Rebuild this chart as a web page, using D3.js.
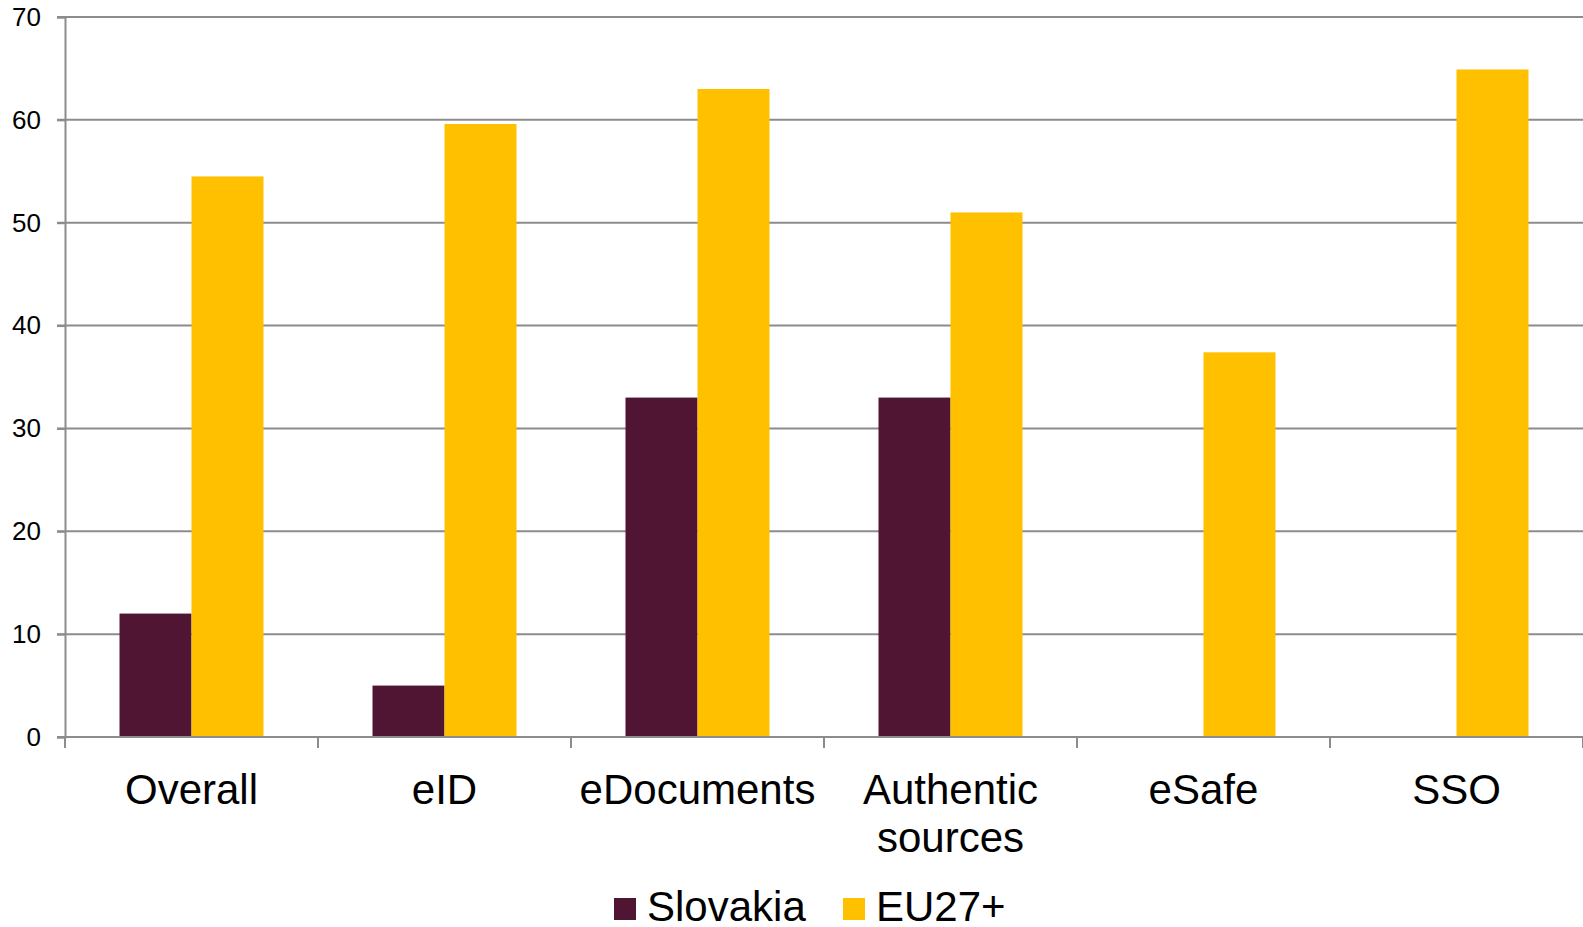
<!DOCTYPE html>
<html>
<head>
<meta charset="utf-8">
<script src="https://cdn.jsdelivr.net/npm/d3@7"></script>
<style>
  body { margin: 0; background: #fff; }
  text { font-family: "Liberation Sans", Arial, sans-serif; fill: #000; }
</style>
</head>
<body>
<svg id="main" width="1583" height="927"></svg>
<script>
var categories = ["Overall", "eID", "eDocuments", "Authentic sources", "eSafe", "SSO"];
var seriesNames = ["Slovakia", "EU27+"];
var slovakia = [12, 5, 33, 33, 0, 0];
var eu = [54.5, 59.6, 63.0, 51.0, 37.4, 64.9];
var yTicks = [0, 10, 20, 30, 40, 50, 60, 70];
var colors = ["#501533", "#ffc000"];

var svg = d3.select("#main");
// note: "top" clashes with window.top, so use plot* names
var plotLeft = 65, plotRight = 1583, plotTop = 17, plotBottom = 737;

var x0 = d3.scaleBand().domain(categories).range([plotLeft, plotRight]);
var x1 = d3.scaleBand().domain(seriesNames).range([0, x0.bandwidth()]).paddingOuter(0.757);
var y = d3.scaleLinear().domain([0, 70]).range([plotBottom, plotTop]);

// gridlines
svg.append("g")
    .selectAll("line")
    .data(yTicks.slice(1))
    .enter().append("line")
    .attr("x1", plotLeft - 8)
    .attr("x2", plotRight)
    .attr("y1", function(d) { return y(d); })
    .attr("y2", function(d) { return y(d); })
    .attr("stroke", "#8c8c8c")
    .attr("stroke-width", 2);

// y axis
var yAxis = svg.append("g")
    .attr("transform", "translate(" + plotLeft + ",0)")
    .call(d3.axisLeft(y).tickValues(yTicks).tickSize(8).tickPadding(16));
yAxis.select(".domain").attr("stroke", "#8c8c8c").attr("stroke-width", 2);
yAxis.selectAll(".tick line").attr("stroke", "#8c8c8c").attr("stroke-width", 2);
yAxis.selectAll(".tick text")
    .style("font-family", "'Liberation Sans', Arial, sans-serif")
    .style("font-size", "26px")
    .attr("fill", "#000");

// bars
var rows = categories.map(function(c, i) {
  return { cat: c, vals: [slovakia[i], eu[i]] };
});

var groups = svg.append("g")
    .selectAll("g")
    .data(rows)
    .enter().append("g")
    .attr("transform", function(d) { return "translate(" + x0(d.cat) + ",0)"; });

groups.selectAll("rect")
    .data(function(d) { return d.vals.map(function(v, j) { return { name: seriesNames[j], v: v }; }); })
    .enter().append("rect")
    .attr("x", function(d) { return x1(d.name); })
    .attr("width", x1.bandwidth())
    .attr("y", function(d) { return y(d.v); })
    .attr("height", function(d) { return y(0) - y(d.v); })
    .attr("fill", function(d, j) { return colors[j]; });

// x axis
var xAxis = svg.append("g")
    .attr("transform", "translate(0," + plotBottom + ")");
xAxis.append("line")
    .attr("x1", plotLeft - 8).attr("x2", plotRight)
    .attr("stroke", "#8c8c8c").attr("stroke-width", 2);
var bounds = categories.map(function(c) { return x0(c); }).concat([plotRight]);
xAxis.selectAll("line.tk")
    .data(bounds)
    .enter().append("line")
    .attr("class", "tk")
    .attr("x1", function(d) { return d; })
    .attr("x2", function(d) { return d; })
    .attr("y1", 0).attr("y2", 11)
    .attr("stroke", "#8c8c8c").attr("stroke-width", 2);

var labels = xAxis.selectAll("text.cat")
    .data(categories)
    .enter().append("text")
    .attr("class", "cat")
    .attr("text-anchor", "middle")
    .attr("font-size", "42px")
    .attr("x", function(d) { return x0(d) + x0.bandwidth() / 2; })
    .attr("y", 67);

labels.each(function(d) {
  var t = d3.select(this);
  t.text(d);
  if (this.getComputedTextLength() > x0.bandwidth() - 10) {
    t.text(null);
    var words = d.split(" ");
    var cx = x0(d) + x0.bandwidth() / 2;
    words.forEach(function(w, k) {
      t.append("tspan").attr("x", cx).attr("dy", k === 0 ? 0 : 48).text(w);
    });
  }
});

// legend
var legend = svg.append("g");
var legendX = [614, 843];
seriesNames.forEach(function(name, j) {
  legend.append("rect")
      .attr("x", legendX[j]).attr("y", 898)
      .attr("width", 22).attr("height", 22)
      .attr("fill", colors[j]);
  legend.append("text")
      .attr("x", legendX[j] + 33).attr("y", 921)
      .attr("font-size", "42px")
      .text(name);
});
</script>
</body>
</html>
